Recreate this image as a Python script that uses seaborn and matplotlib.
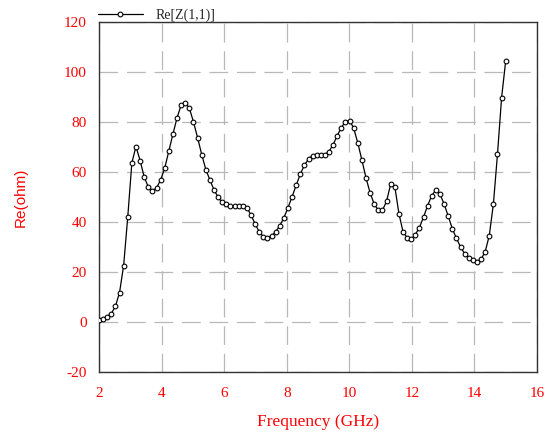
import numpy as np
import pandas as pd
import matplotlib
matplotlib.use("Agg")
import matplotlib.pyplot as plt
import seaborn as sns

# ---- data ----
freq_start, freq_stop, n_points = 2.0, 15.0, 100
re_z11 = [
    0.8, 1.3, 2.2, 3.4, 6.3, 11.8, 22.6, 42.0, 63.7, 70.2,
    64.6, 58.0, 54.0, 52.4, 53.6, 56.8, 61.6, 68.4, 75.2, 81.7,
    86.8, 87.7, 85.5, 80.0, 73.7, 67.0, 61.0, 56.8, 52.8, 49.9,
    47.9, 47.1, 46.5, 46.4, 46.4, 46.4, 45.7, 42.8, 39.2, 36.1,
    34.1, 33.7, 34.4, 36.1, 38.5, 41.7, 45.7, 50.1, 54.7, 59.2,
    62.7, 65.2, 66.6, 66.7, 66.7, 67.0, 68.2, 71.0, 74.6, 77.8,
    80.2, 80.6, 77.5, 71.6, 64.7, 57.6, 51.6, 47.1, 44.7, 44.7,
    48.3, 55.2, 54.2, 43.4, 36.1, 33.7, 33.1, 35.0, 37.8, 42.0,
    46.6, 50.6, 52.8, 51.2, 47.2, 42.4, 37.3, 33.5, 30.0, 27.3,
    25.8, 24.8, 24.1, 25.1, 28.1, 34.6, 47.2, 67.2, 89.8, 104.5,
]
x_ticks = [2, 4, 6, 8, 10, 12, 14, 16]
y_ticks = [-20, 0, 20, 40, 60, 80, 100, 120]
series_name = "Re[Z(1,1)]"

freq = np.linspace(freq_start, freq_stop, n_points)
df = pd.DataFrame({"Frequency (GHz)": freq, "Re(ohm)": re_z11})

sns.set_style("white")
plt.rcParams["font.family"] = ["Liberation Serif", "DejaVu Serif"]

fig = plt.figure(figsize=(5.48, 4.34), dpi=100)
ax = fig.add_axes([99 / 548, 1 - 372 / 434, (537 - 99) / 548, (372 - 22) / 434])

sns.lineplot(data=df, x="Frequency (GHz)", y="Re(ohm)", ax=ax,
             color="black", linewidth=0.9, marker="o", markersize=3.4,
             markerfacecolor="white", markeredgecolor="black",
             markeredgewidth=0.8, label=series_name, zorder=3)

ax.set_xlim(2, 16)
ax.set_ylim(-20, 120)
ax.set_xticks(x_ticks)
ax.set_yticks(y_ticks)
ax.set_xticklabels([str(v) for v in x_ticks])
ax.set_yticklabels([str(v) for v in y_ticks])

ax.grid(True, color="#b8b8b8", linewidth=0.9, linestyle=(0, (15, 7)))
ax.set_axisbelow(True)
for s in ax.spines.values():
    s.set_visible(True)
    s.set_color("#333333")
    s.set_linewidth(1.0)

ax.tick_params(axis="both", length=0, labelcolor="red", labelsize=11)
ax.tick_params(axis="x", pad=11)
ax.tick_params(axis="y", pad=9)

ax.set_xlabel("Frequency (GHz)", color="red", fontsize=12.5, labelpad=10)
ax.set_ylabel("Re(ohm)", color="red", fontsize=11,
              fontfamily="Liberation Sans", labelpad=26)

leg = ax.legend(loc="lower left", bbox_to_anchor=(-0.005, 0.995), frameon=False,
                handlelength=3.2, handletextpad=0.9, borderaxespad=0.0,
                borderpad=0.1, prop={"family": "Liberation Serif", "size": 10})

fig.savefig("out.png", dpi=100, facecolor="white")
